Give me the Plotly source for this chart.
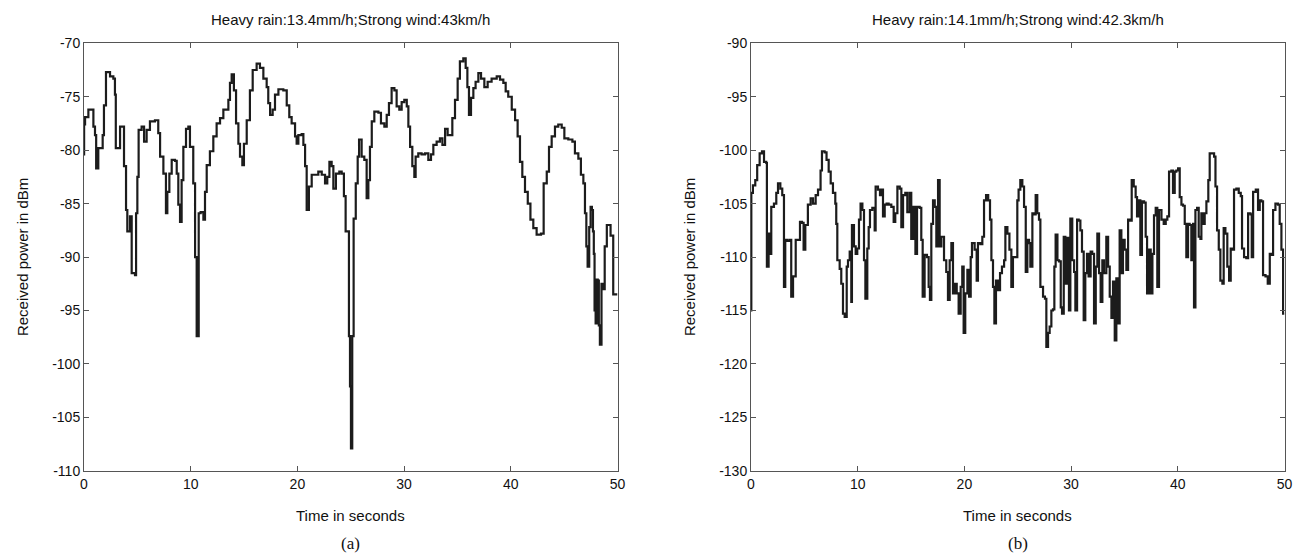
import plotly.graph_objects as go

# ---- Data: panel (a) ----
t_a = [0.0, 0.01, 0.10, 0.41, 0.71, 0.88, 1.03, 1.14, 1.34, 1.66, 1.75, 1.87, 2.06, 2.28, 2.44, 2.75, 2.90,
       2.98, 3.31, 3.38, 3.68, 3.75, 3.94, 4.06, 4.31, 4.47, 4.78, 4.88, 5.00, 5.12, 5.40, 5.63, 5.87, 6.18,
       6.65, 6.96, 7.13, 7.44, 7.68, 7.81, 8.00, 8.22, 8.53, 8.69, 8.84, 9.00, 9.15, 9.31, 9.56, 9.78, 9.93,
       10.24, 10.41, 10.56, 10.75, 10.93, 11.19, 11.34, 11.50, 11.80, 12.12, 12.43, 12.75, 13.06, 13.37,
       13.53, 13.68, 13.84, 14.05, 14.25, 14.47, 14.62, 14.84, 14.99, 15.25, 15.55, 15.81, 16.18, 16.49,
       16.81, 17.12, 17.27, 17.44, 17.68, 17.90, 18.22, 18.68, 19.00, 19.24, 19.46, 19.78, 19.93, 20.09,
       20.40, 20.56, 20.72, 20.87, 21.08, 21.34, 21.65, 21.96, 22.28, 22.59, 22.80, 23.00, 23.21, 23.37,
       23.61, 23.93, 24.15, 24.36, 24.52, 24.83, 24.93, 25.02, 25.14, 25.27, 25.47, 25.65, 25.78, 26.02,
       26.27, 26.49, 26.65, 26.80, 26.97, 27.21, 27.59, 27.83, 28.15, 28.37, 28.58, 28.83, 29.09, 29.30,
       29.55, 29.77, 30.02, 30.25, 30.40, 30.56, 30.77, 30.96, 31.08, 31.33, 31.64, 31.96, 32.27, 32.52,
       32.74, 33.05, 33.36, 33.59, 33.84, 34.08, 34.30, 34.52, 34.77, 35.02, 35.23, 35.55, 35.77, 35.93,
       36.08, 36.27, 36.49, 36.70, 36.96, 37.21, 37.52, 37.83, 38.20, 38.68, 38.99, 39.30, 39.52, 39.76,
       40.09, 40.40, 40.64, 40.86, 41.08, 41.33, 41.59, 41.84, 42.11, 42.42, 42.83, 43.08, 43.37, 43.58,
       43.83, 44.14, 44.45, 44.77, 45.02, 45.39, 45.77, 46.01, 46.33, 46.57, 46.80, 46.95, 47.08, 47.20,
       47.35, 47.48, 47.60, 47.70, 47.78, 47.85, 47.95, 48.05, 48.15, 48.25, 48.35, 48.50, 48.65, 48.80,
       49.00, 49.35, 49.60, 50.0]
p_a = [-80.4, -77.6, -76.9, -76.2, -76.2, -77.8, -78.6, -81.7, -79.8, -79.8, -78.6, -75.8, -72.7, -72.7,
       -73.1, -73.3, -74.8, -79.8, -79.8, -77.8, -77.8, -81.5, -85.6, -87.6, -86.2, -91.5, -91.7, -85.9,
       -82.5, -78.1, -77.8, -79.2, -78.1, -77.3, -77.2, -78.4, -80.6, -82.2, -85.9, -83.9, -82.2, -80.9,
       -81.0, -82.2, -85.1, -86.7, -82.8, -79.7, -78.0, -77.8, -79.7, -83.1, -90.0, -97.4, -85.9, -85.8,
       -86.5, -83.9, -81.4, -80.1, -78.7, -77.5, -77.0, -76.2, -76.2, -75.3, -73.7, -72.9, -74.4, -77.5,
       -79.4, -80.6, -81.4, -79.4, -77.2, -74.4, -72.5, -71.9, -72.3, -73.3, -74.1, -75.6, -76.7, -76.2,
       -74.8, -74.3, -74.4, -75.8, -76.9, -77.5, -78.7, -79.4, -78.6, -78.5, -79.5, -81.5, -85.6, -83.4,
       -82.3, -82.3, -82.0, -82.3, -83.1, -82.5, -81.1, -81.5, -83.6, -82.2, -82.0, -82.2, -84.3, -87.6,
       -97.4, -102.1, -107.9, -97.4, -86.4, -83.1, -80.6, -79.0, -80.6, -80.9, -84.5, -82.8, -79.7, -77.3,
       -76.4, -76.5, -77.5, -77.8, -76.7, -75.6, -74.2, -74.4, -75.9, -76.2, -75.5, -75.3, -75.9, -77.8,
       -79.7, -81.5, -82.5, -80.6, -80.3, -80.4, -80.3, -80.9, -80.4, -79.5, -79.2, -78.9, -79.5, -78.0,
       -78.6, -78.6, -77.0, -75.3, -73.3, -71.7, -71.4, -72.3, -74.1, -76.7, -75.1, -74.2, -73.6, -72.8,
       -73.3, -74.1, -73.6, -73.3, -73.1, -73.4, -73.7, -74.5, -75.0, -76.2, -77.2, -78.7, -81.1, -82.5,
       -83.9, -85.0, -86.5, -87.3, -87.9, -87.8, -83.1, -82.0, -79.7, -78.7, -77.8, -77.6, -77.9, -78.9,
       -79.0, -79.2, -80.3, -80.8, -82.3, -83.1, -85.9, -89.0, -90.9, -87.2, -85.3, -85.6, -87.6, -89.7,
       -95.0, -96.2, -92.1, -92.2, -96.4, -98.2, -92.5, -93.0, -89.0, -87.0, -88.0, -93.5, -93.5]

# ---- Data: panel (b) ----
t_b = [0.0, 0.03, 0.18, 0.40, 0.58, 0.81, 1.03, 1.22, 1.43, 1.49, 1.65, 1.77, 1.90, 2.15, 2.37, 2.53, 2.75,
       2.93, 3.09, 3.21, 3.40, 3.62, 3.77, 3.94, 4.19, 4.40, 4.59, 4.78, 4.93, 5.09, 5.33, 5.59, 5.81, 6.06,
       6.28, 6.52, 6.65, 6.90, 7.08, 7.28, 7.47, 7.68, 7.90, 7.99, 8.09, 8.31, 8.46, 8.62, 8.78, 8.97, 9.09,
       9.25, 9.40, 9.46, 9.65, 9.81, 9.96, 10.12, 10.27, 10.44, 10.59, 10.72, 10.90, 11.03, 11.15, 11.37,
       11.59, 11.68, 11.90, 12.09, 12.22, 12.37, 12.53, 12.71, 12.90, 13.15, 13.37, 13.52, 13.72, 13.94,
       14.09, 14.25, 14.46, 14.65, 14.87, 15.02, 15.22, 15.41, 15.56, 15.81, 15.96, 16.09, 16.27, 16.49,
       16.65, 16.77, 16.90, 17.06, 17.22, 17.37, 17.53, 17.68, 17.84, 18.09, 18.30, 18.46, 18.62, 18.78,
       18.93, 19.09, 19.28, 19.46, 19.65, 19.80, 19.93, 20.08, 20.28, 20.44, 20.59, 20.71, 20.96, 21.15,
       21.27, 21.49, 21.68, 21.84, 22.03, 22.23, 22.40, 22.53, 22.68, 22.81, 22.96, 23.15, 23.34, 23.52,
       23.72, 23.84, 24.03, 24.22, 24.40, 24.55, 24.78, 24.96, 25.08, 25.24, 25.43, 25.59, 25.75, 25.90,
       26.06, 26.18, 26.37, 26.55, 26.68, 26.83, 26.99, 27.12, 27.37, 27.55, 27.68, 27.84, 27.99, 28.15,
       28.30, 28.43, 28.55, 28.72, 28.87, 29.03, 29.15, 29.31, 29.46, 29.65, 29.80, 29.93, 30.11, 30.28,
       30.40, 30.56, 30.71, 30.87, 31.02, 31.18, 31.33, 31.49, 31.64, 31.83, 31.98, 32.15, 32.31, 32.46,
       32.62, 32.77, 32.93, 33.08, 33.30, 33.47, 33.62, 33.78, 33.93, 34.09, 34.24, 34.40, 34.55, 34.71,
       34.86, 35.02, 35.18, 35.34, 35.49, 35.68, 35.87, 36.05, 36.18, 36.33, 36.49, 36.64, 36.84, 36.99,
       37.12, 37.31, 37.46, 37.62, 37.77, 37.93, 38.08, 38.24, 38.47, 38.68, 38.87, 39.02, 39.18, 39.40,
       39.55, 39.71, 39.86, 40.03, 40.18, 40.34, 40.49, 40.65, 40.80, 40.96, 41.11, 41.27, 41.43, 41.52,
       41.65, 41.81, 41.96, 42.12, 42.21, 42.37, 42.52, 42.68, 42.86, 42.99, 43.25, 43.40, 43.53, 43.68,
       43.84, 43.99, 44.18, 44.30, 44.46, 44.64, 44.81, 44.96, 45.12, 45.27, 45.49, 45.71, 45.90, 46.02,
       46.21, 46.42, 46.59, 46.81, 46.93, 47.06, 47.31, 47.52, 47.68, 47.83, 47.99, 48.22, 48.43, 48.62,
       48.77, 48.93, 49.15, 49.39, 49.55, 49.71, 49.87, 50.0]
p_b = [-115.0, -104.0, -103.3, -102.8, -101.4, -100.3, -100.1, -101.1, -101.2, -110.9, -107.8, -109.7,
       -105.3, -105.0, -104.0, -103.1, -103.6, -104.2, -112.8, -108.4, -108.5, -108.4, -113.7, -111.8,
       -108.4, -108.4, -106.7, -106.8, -109.3, -107.0, -105.1, -104.5, -105.0, -104.2, -103.7, -101.9,
       -100.1, -100.2, -100.9, -102.0, -103.1, -104.0, -105.0, -106.9, -110.3, -111.1, -112.5, -115.3,
       -115.6, -110.9, -110.3, -109.5, -114.2, -107.0, -109.0, -109.7, -109.2, -106.5, -105.0, -105.6,
       -110.3, -113.9, -109.2, -107.2, -105.6, -105.4, -107.5, -103.4, -103.7, -104.2, -103.7, -106.2,
       -105.1, -105.0, -105.1, -105.3, -106.7, -105.9, -103.4, -103.6, -107.2, -104.2, -104.0, -105.8,
       -104.0, -108.3, -105.3, -109.7, -105.3, -105.4, -108.4, -113.7, -109.8, -110.0, -112.8, -114.0,
       -106.9, -104.7, -105.3, -109.0, -102.8, -109.0, -108.1, -110.3, -111.4, -114.0, -110.3, -108.7,
       -113.4, -112.5, -113.4, -115.3, -112.8, -110.9, -117.1, -113.4, -111.2, -113.7, -110.0, -108.7,
       -109.3, -112.2, -108.7, -108.8, -108.1, -104.7, -104.2, -104.7, -106.5, -110.3, -112.8, -116.2,
       -112.2, -113.1, -111.5, -110.9, -110.3, -107.2, -107.8, -109.3, -112.8, -110.0, -110.0, -104.7,
       -103.7, -102.8, -103.4, -105.3, -111.4, -108.4, -108.7, -110.9, -105.9, -106.0, -104.2, -105.9,
       -106.5, -112.8, -113.7, -113.9, -118.4, -117.1, -116.5, -115.0, -114.9, -110.9, -107.9, -110.3,
       -110.4, -114.7, -115.3, -108.1, -112.5, -108.2, -115.0, -106.4, -110.3, -111.4, -115.0, -106.5,
       -106.6, -107.5, -109.5, -115.9, -111.5, -109.7, -111.8, -109.5, -109.7, -116.2, -110.9, -107.8,
       -111.5, -114.2, -110.3, -111.5, -108.1, -110.9, -113.7, -115.7, -112.3, -117.8, -112.0, -116.2,
       -107.5, -111.5, -108.4, -109.3, -111.2, -106.5, -106.6, -102.8, -103.4, -104.4, -106.2, -104.7,
       -109.8, -104.8, -104.9, -108.1, -113.4, -109.3, -113.4, -109.7, -106.1, -105.4, -112.8, -105.6,
       -106.5, -106.9, -106.5, -106.2, -102.0, -101.9, -104.0, -102.0, -101.9, -101.7, -104.4, -105.1,
       -105.2, -106.9, -110.0, -106.9, -107.0, -110.3, -106.9, -114.7, -105.6, -105.4, -108.1, -108.3,
       -105.9, -106.9, -105.9, -104.8, -102.8, -100.3, -100.3, -100.6, -103.4, -107.5, -109.3, -112.2,
       -112.5, -107.3, -107.8, -110.9, -112.2, -109.2, -109.3, -103.7, -103.6, -104.0, -104.3, -109.2,
       -110.0, -110.1, -105.9, -106.0, -110.0, -103.9, -103.7, -105.6, -104.7, -104.8, -111.7, -111.8,
       -112.5, -109.7, -109.8, -105.6, -105.0, -105.1, -106.9, -109.3, -115.3, -115.3]

assert len(t_a) == len(p_a), (len(t_a), len(p_a))
assert len(t_b) == len(p_b), (len(t_b), len(p_b))

titles = ["Heavy rain:13.4mm/h;Strong wind:43km/h", "Heavy rain:14.1mm/h;Strong wind:42.3km/h"]
labels = ["(a)", "(b)"]
x_ticks = [0, 10, 20, 30, 40, 50]
y_ticks_a = [-110, -105, -100, -95, -90, -85, -80, -75, -70]
y_ticks_b = [-130, -125, -120, -115, -110, -105, -100, -95, -90]

W, H = 1312, 555
dom_a = [84.0 / W, 617.5 / W]
dom_b = [751.0 / W, 1284.5 / W]
ydom = [1 - 470.8 / H, 1 - 43.3 / H]

line_col = "#1c1c1c"
fig = go.Figure()
fig.add_trace(go.Scatter(x=t_a, y=p_a, mode="lines", line=dict(color=line_col, width=2.2, shape="hv"),
                         xaxis="x", yaxis="y", showlegend=False, hoverinfo="skip"))
fig.add_trace(go.Scatter(x=t_b, y=p_b, mode="lines", line=dict(color=line_col, width=2.2, shape="hv"),
                         xaxis="x2", yaxis="y2", showlegend=False, hoverinfo="skip"))

sans = "Liberation Sans, Arial, sans-serif"
tickfont = dict(family=sans, size=14, color="#111")
ax_common = dict(showline=True, linecolor="#555", linewidth=1, mirror="ticks", ticks="inside",
                 ticklen=5, tickcolor="#555", showgrid=False, zeroline=False, tickfont=tickfont)

fig.update_layout(
    width=W, height=H, margin=dict(l=0, r=0, t=0, b=0, autoexpand=False),
    paper_bgcolor="white", plot_bgcolor="white",
    xaxis=dict(domain=dom_a, range=[0, 50], tickvals=x_ticks, ticktext=[str(v) for v in x_ticks],
               anchor="y", **ax_common),
    yaxis=dict(domain=ydom, range=[-110, -70], tickvals=y_ticks_a, ticktext=[str(v) for v in y_ticks_a],
               anchor="x", **ax_common),
    xaxis2=dict(domain=dom_b, range=[0, 50], tickvals=x_ticks, ticktext=[str(v) for v in x_ticks],
                anchor="y2", **ax_common),
    yaxis2=dict(domain=ydom, range=[-130, -90], tickvals=y_ticks_b, ticktext=[str(v) for v in y_ticks_b],
                anchor="x2", **ax_common),
)

ann = []
for i, dom in enumerate([dom_a, dom_b]):
    cx = (dom[0] + dom[1]) / 2
    ann.append(dict(text=titles[i], x=cx, y=1 - 20 / H, xref="paper", yref="paper", showarrow=False,
                    font=dict(family=sans, size=15, color="#111"), xanchor="center", yanchor="middle"))
    ann.append(dict(text="Time in seconds", x=cx, y=1 - 515 / H, xref="paper", yref="paper", showarrow=False,
                    font=dict(family=sans, size=15, color="#111"), xanchor="center", yanchor="middle"))
    ann.append(dict(text=labels[i], x=cx, y=1 - 543 / H, xref="paper", yref="paper", showarrow=False,
                    font=dict(family="Liberation Serif, Times New Roman, serif", size=17, color="#111"),
                    xanchor="center", yanchor="middle"))
    ann.append(dict(text="Received power in dBm", x=dom[0] - 62 / W, y=(ydom[0] + ydom[1]) / 2,
                    xref="paper", yref="paper", showarrow=False, textangle=-90,
                    font=dict(family=sans, size=15, color="#111"), xanchor="center", yanchor="middle"))
fig.update_layout(annotations=ann)

fig.write_html("out.html", config={"displayModeBar": False},
               post_script="document.body.style.margin='0';document.body.style.overflow='hidden';")
